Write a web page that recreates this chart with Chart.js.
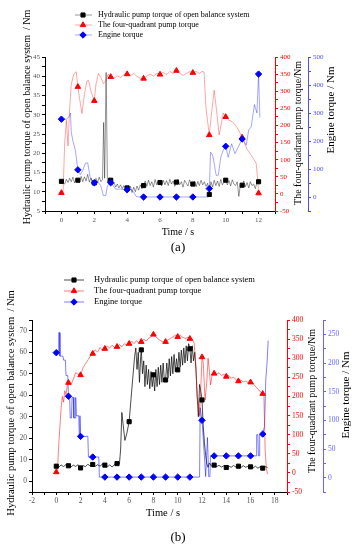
<!DOCTYPE html>
<html>
<head>
<meta charset="utf-8">
<script src="https://cdn.jsdelivr.net/npm/chart.js"></script>
<style>
  body { margin: 0; background: #fff; }
  canvas { display: block; }
</style>
</head>
<body>
<canvas id="chartA" width="357" height="265"></canvas>
<canvas id="chartB" width="357" height="285"></canvas>
<script>
// ---------- chart (a) ----------
const aMarkT = [0, 1, 2, 3, 4, 5, 6, 7, 8, 9, 10, 11, 12];
const aPumpMark = [12.7, 13.0, 12.3, 13.0, 11.0, 11.6, 12.4, 12.5, 12.0, 9.3, 13.0, 11.7, 12.6];
const aQuadMark = [3, 313, 272, 342, 350, 337, 349, 360, 354, 172, 225, 165, 2];
const aEngMark = [278, 97, 51, 51, 26, 0, 0, 0, 0, 30, 181, 207, 439];

const aPumpLine = [
  [0, 12.7], [0.1, 12.2], [0.2, 12.0], [0.3, 13.2], [0.4, 12.4], [0.5, 13.5], [0.6, 12.6], [0.7, 13.8],
  [0.8, 12.3], [0.9, 13.4], [1.0, 13.0], [1.1, 12.4], [1.2, 14.0], [1.3, 12.6], [1.4, 13.9], [1.5, 12.8],
  [1.6, 14.5], [1.7, 12.5], [1.8, 13.6], [1.9, 12.2], [2.0, 12.3], [2.1, 13.5], [2.2, 12.4], [2.3, 13.8],
  [2.4, 12.6], [2.5, 13.2], [2.57, 28], [2.63, 13.5], [2.72, 41], [2.8, 12.5], [2.9, 13.6], [3.0, 13.0],
  [3.1, 11.8], [3.2, 12.4], [3.3, 11.2], [3.4, 12.0], [3.5, 11.0], [3.6, 11.8], [3.7, 10.8], [3.8, 11.6],
  [3.9, 10.5], [4.0, 11.0], [4.1, 10.2], [4.2, 11.4], [4.3, 9.8], [4.4, 11.2], [4.5, 10.0], [4.6, 11.5],
  [4.7, 10.4], [4.8, 11.8], [4.9, 10.8], [5.0, 11.6], [5.1, 12.8], [5.2, 11.4], [5.3, 13.0], [5.4, 11.6],
  [5.5, 12.6], [5.6, 11.2], [5.7, 13.2], [5.8, 11.8], [5.9, 12.8], [6.0, 12.4], [6.1, 11.5], [6.2, 13.0],
  [6.3, 11.8], [6.4, 12.9], [6.5, 11.6], [6.6, 13.2], [6.7, 12.0], [6.8, 12.8], [6.9, 11.4], [7.0, 12.5],
  [7.1, 13.3], [7.2, 11.8], [7.3, 12.6], [7.4, 11.2], [7.5, 13.0], [7.6, 12.2], [7.7, 11.5], [7.8, 13.1],
  [7.9, 11.9], [8.0, 12.0], [8.1, 12.8], [8.2, 11.3], [8.3, 12.7], [8.4, 11.6], [8.5, 13.0], [8.6, 11.8],
  [8.7, 12.6], [8.8, 11.4], [8.9, 12.2], [9.0, 9.3], [9.1, 12.6], [9.2, 11.2], [9.3, 13.0], [9.4, 11.6],
  [9.5, 12.8], [9.6, 11.4], [9.7, 13.2], [9.8, 11.8], [9.9, 12.6], [10.0, 13.0], [10.1, 11.8], [10.2, 12.9],
  [10.3, 11.5], [10.4, 13.1], [10.5, 12.0], [10.6, 11.6], [10.7, 12.6], [10.8, 8.8], [10.9, 12.2], [11.0, 11.7],
  [11.1, 12.8], [11.2, 11.3], [11.3, 12.4], [11.4, 11.0], [11.5, 12.6], [11.6, 11.6], [11.7, 12.0], [11.8, 10.8],
  [11.9, 12.4], [12.0, 12.6], [12.1, 13.2]
];
const aQuadLine = [
  [0, 3], [0.1, 5], [0.2, 150], [0.3, 215], [0.4, 140], [0.5, 250], [0.6, 320], [0.75, 350], [0.9, 357],
  [1.0, 313], [1.1, 280], [1.25, 235], [1.4, 290], [1.55, 330], [1.65, 332], [1.8, 300], [2.0, 272],
  [2.1, 320], [2.25, 352], [2.4, 340], [2.55, 322], [2.7, 330], [2.85, 350], [3.0, 342], [3.2, 338],
  [3.4, 345], [3.6, 340], [3.8, 348], [4.0, 350], [4.2, 345], [4.4, 352], [4.6, 343], [4.8, 338],
  [5.0, 337], [5.2, 345], [5.4, 350], [5.6, 344], [5.8, 352], [6.0, 349], [6.2, 355], [6.4, 348],
  [6.6, 358], [6.8, 352], [7.0, 360], [7.2, 353], [7.4, 346], [7.6, 352], [7.8, 357], [8.0, 354],
  [8.2, 358], [8.4, 352], [8.55, 358], [8.68, 356], [8.8, 250], [9.0, 172], [9.1, 220], [9.3, 303],
  [9.45, 240], [9.6, 172], [9.75, 210], [9.85, 236], [10.0, 225], [10.2, 215], [10.4, 211], [10.6, 200],
  [10.8, 185], [11.0, 165], [11.3, 130], [11.6, 110], [11.85, 90], [11.95, 40], [12.0, 2]
];
const aEngLine = [
  [0, 278], [0.3, 278], [0.45, 285], [0.55, 300], [0.6, 230], [0.7, 200], [0.85, 166], [1.0, 97],
  [1.15, 80], [1.3, 95], [1.45, 120], [1.6, 122], [1.75, 70], [1.9, 55], [2.0, 51], [2.2, 55],
  [2.4, 40], [2.55, 5], [2.7, 5], [2.8, 40], [3.0, 51], [3.15, 40], [3.3, 28], [3.6, 28], [3.9, 26],
  [4.0, 26], [4.2, 28], [4.4, 18], [4.55, 2], [4.7, 0], [5, 0], [6, 0], [7, 0], [8, 0], [8.95, 0],
  [9.0, 30], [9.08, 160], [9.2, 150], [9.3, 120], [9.42, 77], [9.55, 78], [9.7, 142], [9.85, 168],
  [10.0, 181], [10.15, 142], [10.36, 190], [10.56, 155], [10.76, 178], [11.0, 207], [11.1, 200],
  [11.25, 185], [11.4, 240], [11.55, 250], [11.75, 330], [11.9, 300], [12.0, 439], [12.08, 284]
];

// ---------- chart (b) ----------
const bMarkT = [0, 1, 2, 3, 4, 5, 6, 7, 8, 9, 10, 11, 12, 13, 14, 15, 16, 17];
const bPumpMark = [7.0, 7.2, 6.2, 7.8, 7.5, 8.2, 27.7, 61.1, 49.5, 47.1, 51.8, 61.6, 37.8, 7.5, 6.4, 7.0, 6.7, 6.1];
const bQuadMark = [2, 236, 256, 312, 325, 330, 338, 343, 362, 343, 356, 351, 303, 260, 252, 240, 237, 207];
const bEngMark = [218, 142, 72, 36, 1, 1, 1, 1, 1, 1, 1, 1, 100, 38, 38, 38, 38, 76];

const bPumpLine = [
  [0, 7.0], [0.2, 6.5], [0.4, 7.6], [0.6, 6.8], [0.8, 7.8], [1.0, 7.2], [1.2, 6.6], [1.4, 7.5], [1.6, 6.9],
  [1.8, 7.7], [2.0, 6.2], [2.2, 7.3], [2.4, 6.8], [2.6, 7.9], [2.8, 7.1], [3.0, 7.8], [3.2, 6.9], [3.4, 7.7],
  [3.6, 7.0], [3.8, 8.0], [4.0, 7.5], [4.2, 6.7], [4.4, 7.6], [4.6, 6.6], [4.8, 7.8], [5.0, 8.2], [5.2, 8.0],
  [5.3, 15], [5.4, 32], [5.55, 24], [5.65, 19], [5.8, 22], [6.0, 27.7], [6.15, 38], [6.3, 48], [6.45, 58],
  [6.55, 62], [6.65, 52], [6.75, 60], [6.85, 46], [6.95, 58], [7.0, 61.1], [7.1, 50], [7.2, 56], [7.3, 44],
  [7.4, 54], [7.5, 45], [7.6, 52], [7.7, 43], [7.8, 51], [7.9, 44], [8.0, 49.5], [8.1, 42], [8.2, 52],
  [8.3, 44], [8.4, 53], [8.5, 45], [8.6, 54], [8.7, 46], [8.8, 55], [8.9, 47], [9.0, 47.1], [9.1, 55],
  [9.2, 48], [9.3, 57], [9.4, 49], [9.5, 58], [9.6, 50], [9.7, 59], [9.8, 51], [9.9, 57], [10.0, 51.8],
  [10.1, 60], [10.2, 53], [10.3, 61], [10.4, 54], [10.5, 62], [10.6, 55], [10.7, 63], [10.8, 56], [10.9, 64],
  [11.0, 61.6], [11.1, 55], [11.2, 63], [11.3, 56], [11.4, 60], [11.5, 52], [11.6, 40], [11.7, 30],
  [11.8, 45], [11.9, 42], [12.0, 37.8], [12.1, 26], [12.2, 18], [12.3, 12], [12.4, 8], [12.5, 6.5],
  [12.6, 8.5], [12.8, 7], [13.0, 7.5], [13.2, 6.8], [13.4, 7.4], [13.6, 6.6], [13.8, 7.2], [14.0, 6.4],
  [14.2, 7.1], [14.4, 6.5], [14.6, 7.3], [14.8, 6.6], [15.0, 7.0], [15.2, 6.4], [15.4, 7.2], [15.6, 6.5],
  [15.8, 7.0], [16.0, 6.7], [16.2, 6.2], [16.4, 7.0], [16.6, 6.1], [16.8, 6.8], [17.0, 6.1], [17.2, 6.8],
  [17.4, 6.4]
];
const bQuadLine = [
  [0, 2], [0.1, 10], [0.22, 83], [0.4, 171], [0.5, 200], [0.6, 185], [0.7, 215], [0.8, 205], [0.9, 228],
  [1.0, 236], [1.2, 230], [1.4, 245], [1.6, 262], [1.8, 258], [2.0, 256], [2.2, 275], [2.4, 285],
  [2.6, 295], [2.8, 305], [3.0, 312], [3.2, 322], [3.4, 316], [3.6, 328], [3.8, 320], [4.0, 325],
  [4.2, 332], [4.4, 326], [4.6, 334], [4.8, 328], [5.0, 330], [5.2, 336], [5.4, 330], [5.6, 338],
  [5.8, 334], [6.0, 338], [6.2, 345], [6.4, 338], [6.6, 346], [6.8, 340], [7.0, 343], [7.2, 350],
  [7.4, 345], [7.6, 352], [7.8, 356], [8.0, 362], [8.2, 356], [8.4, 350], [8.6, 346], [8.8, 342],
  [9.0, 343], [9.2, 348], [9.4, 352], [9.6, 356], [9.8, 360], [10.0, 356], [10.2, 360], [10.4, 355],
  [10.6, 352], [10.8, 354], [11.0, 351], [11.2, 350], [11.35, 340], [11.5, 280], [11.6, 200], [11.7, 180],
  [11.8, 150], [11.9, 220], [12.0, 303], [12.1, 290], [12.25, 190], [12.4, 240], [12.5, 300], [12.6, 270],
  [12.7, 230], [12.8, 250], [12.9, 262], [13.0, 260], [13.2, 258], [13.4, 262], [13.6, 255], [13.8, 258],
  [14.0, 252], [14.2, 255], [14.4, 248], [14.6, 250], [14.8, 244], [15.0, 240], [15.2, 243], [15.4, 238],
  [15.6, 240], [15.8, 236], [16.0, 237], [16.2, 234], [16.4, 226], [16.6, 220], [16.8, 212], [17.0, 207],
  [17.1, 200], [17.2, 60], [17.3, 10], [17.4, -3]
];
const bEngLine = [
  [0, 218], [0.15, 218], [0.2, 253], [0.28, 253], [0.3, 212], [0.55, 212], [0.6, 205], [0.75, 205],
  [0.8, 178], [0.95, 178], [1.0, 142], [1.1, 141], [1.15, 104], [1.25, 104], [1.3, 140], [1.4, 140],
  [1.45, 104], [1.55, 104], [1.6, 140], [1.65, 108], [1.85, 108], [1.9, 70], [1.95, 108], [2.0, 72],
  [2.6, 72], [2.65, 36], [3.5, 36], [3.55, 1], [11.8, 1], [11.85, 122], [12.0, 100], [12.1, 70],
  [12.3, 2], [12.45, 70], [12.55, 2], [12.65, 2], [12.7, 38], [16.45, 38], [16.5, 75], [16.6, 75],
  [16.65, 38], [16.7, 38], [16.75, 75], [17.0, 76], [17.15, 90], [17.25, 170], [17.35, 198], [17.45, 239]
];

const serif = "'Liberation Serif', 'DejaVu Serif', serif";

const decor = {
  id: "decor",
  afterDraw(chart, args, o) {
    const ctx = chart.ctx;
    ctx.save();
    const L = o.legend;
    ctx.font = L.font;
    ctx.textBaseline = "middle";
    ctx.textAlign = "left";
    const items = chart.data.datasets.filter((d) => d.legendText);
    items.forEach((d, i) => {
      const y = L.y + i * L.dy;
      ctx.strokeStyle = d.legendLine;
      ctx.lineWidth = 1;
      ctx.beginPath();
      ctx.moveTo(L.x0, y);
      ctx.lineTo(L.x1, y);
      ctx.stroke();
      ctx.fillStyle = d.backgroundColor;
      ctx.strokeStyle = d.borderColor;
      Chart.helpers.drawPoint(ctx, { pointStyle: d.pointStyle, radius: d.pointRadius, rotation: 0, borderWidth: 1 }, L.xm, y);
      ctx.fillStyle = "#000";
      ctx.fillText(d.legendText, L.xt, y);
    });
    ctx.textAlign = "center";
    o.texts.forEach((t) => {
      ctx.save();
      ctx.font = t.font;
      ctx.fillStyle = "#000";
      ctx.translate(t.x, t.y);
      if (t.rot) ctx.rotate(-Math.PI / 2);
      ctx.fillText(t.text, 0, 0);
      ctx.restore();
    });
    ctx.restore();
  },
};

function pts(xs, ys) {
  return xs.map((x, i) => ({ x: x, y: ys[i] }));
}
function linePts(pairs) {
  return pairs.map((p) => ({ x: p[0], y: p[1] }));
}

function yAxis(pos, color, labelColor, min, max, step, labelStep, labelMin, width, weight, fs) {
  return {
    type: "linear",
    position: pos,
    min: min,
    max: max,
    weight: weight,
    afterFit: (s) => { s.width = width; },
    border: { display: true, color: color, width: 1 },
    grid: { drawOnChartArea: false, drawTicks: true, tickLength: 3, color: color },
    ticks: {
      stepSize: step,
      autoSkip: false,
      padding: 2,
      color: labelColor,
      font: { family: serif, size: fs },
      callback: (v) => (v >= labelMin && Math.abs(v / labelStep - Math.round(v / labelStep)) < 1e-6 ? String(v) : ""),
    },
  };
}

function makeChart(id, c) {
  const blueMarks = { data: pts(c.markT, c.engMark), yAxisID: "y3", showLine: false, pointStyle: "rectRot", pointRadius: c.mr + 0.3,
    backgroundColor: "#0000ff", borderColor: "#0000ff", order: 1, legendText: "Engine torque", legendLine: c.blueLine };
  const redMarks = { data: pts(c.markT, c.quadMark), yAxisID: "y2", showLine: false, pointStyle: "triangle", pointRadius: c.mr + 0.3,
    backgroundColor: "#ff0000", borderColor: "#ff0000", order: 2, legendText: "The four-quadrant pump torque", legendLine: c.redLine };
  const blackMarks = { data: pts(c.markT, c.pumpMark), yAxisID: "y", showLine: false, pointStyle: "rect", pointRadius: c.mr,
    backgroundColor: "#000000", borderColor: "#000000", order: 3, legendText: "Hydraulic pump torque of open balance system", legendLine: c.grayLine };
  const lineOpts = { showLine: true, fill: false, borderWidth: 1, pointRadius: 0, pointHoverRadius: 0 };
  const datasets = [
    blackMarks, redMarks, blueMarks,
    Object.assign({ data: linePts(c.pumpLine), yAxisID: "y", borderColor: c.grayLine, order: 6 }, lineOpts),
    Object.assign({ data: linePts(c.engLine), yAxisID: "y3", borderColor: c.blueLine, order: 5 }, lineOpts),
    Object.assign({ data: linePts(c.quadLine), yAxisID: "y2", borderColor: c.redLine, order: 4 }, lineOpts),
  ];

  return new Chart(document.getElementById(id), {
    type: "scatter",
    data: { datasets: datasets },
    plugins: [decor],
    options: {
      responsive: false,
      animation: false,
      events: [],
      layout: { padding: c.padding },
      elements: { line: { tension: 0 }, point: { borderWidth: 1 } },
      plugins: {
        legend: { display: false },
        tooltip: { enabled: false },
        decor: { legend: c.legend, texts: c.texts },
      },
      scales: {
        x: {
          type: "linear",
          position: "bottom",
          min: c.xMin,
          max: c.xMax,
          afterFit: (s) => { s.height = 28; },
          border: { display: true, color: "#000", width: 1 },
          grid: { drawOnChartArea: false, drawTicks: true, tickLength: 3, color: "#000" },
          ticks: {
            stepSize: 1,
            autoSkip: false,
            maxRotation: 0,
            padding: 2,
            color: "#555",
            font: { family: serif, size: c.fs },
            callback: (v) => (v >= c.xLabelMin && v <= c.xLabelMax && v % 2 === 0 ? String(v) : ""),
          },
        },
        y: yAxis("left", "#000", "#555", c.yL[0], c.yL[1], c.yL[2], c.yL[3], c.yL[4], c.wL, 0, c.fs),
        y2: yAxis("right", "#ff0000", "#ff0000", -50, 400, 25, 50, -50, c.wR, 0, c.fs),
        y3: yAxis("right", c.blueAxis, c.blueAxis, c.yB[0], c.yB[1], c.yB[2], c.yB[3], c.yB[4], c.wB, 1, c.fs),
      },
    },
  });
}

makeChart("chartA", {
  markT: aMarkT, pumpMark: aPumpMark, quadMark: aQuadMark, engMark: aEngMark,
  pumpLine: aPumpLine, quadLine: aQuadLine, engLine: aEngLine,
  grayLine: "rgba(0,0,0,0.42)", redLine: "rgba(255,0,0,0.35)", blueLine: "rgba(0,0,255,0.35)",
  blueAxis: "#4d4dff", mr: 2.9, fs: 7,
  padding: { top: 57, bottom: 26, left: 0, right: 0 },
  xMin: -1, xMax: 13, xLabelMin: 0, xLabelMax: 12,
  yL: [5, 45, 2.5, 5, 5], yB: [-50, 500, 50, 100, 0],
  wL: 45, wR: 33, wB: 49,
  legend: { x0: 75, x1: 92, xm: 83, xt: 98, y: 15, dy: 10, font: "8px " + serif },
  texts: [
    { text: "Hydraulic pump torque of open balance system  / Nm", x: 27, y: 117, rot: true, font: "10px " + serif },
    { text: "The four-quadrant pump torque/Nm", x: 298, y: 133, rot: true, font: "10px " + serif },
    { text: "Engine torque / Nm", x: 331, y: 110, rot: true, font: "11px " + serif },
    { text: "Time / s", x: 178, y: 232, rot: false, font: "10px " + serif },
    { text: "(a)", x: 178, y: 248, rot: false, font: "13px " + serif },
  ],
});

makeChart("chartB", {
  markT: bMarkT, pumpMark: bPumpMark, quadMark: bQuadMark, engMark: bEngMark,
  pumpLine: bPumpLine, quadLine: bQuadLine, engLine: bEngLine,
  grayLine: "rgba(0,0,0,0.7)", redLine: "rgba(255,0,0,0.5)", blueLine: "rgba(0,0,255,0.5)",
  blueAxis: "#6666ff", mr: 2.9, fs: 7.5,
  padding: { top: 55, bottom: 30, left: 0, right: 0 },
  xMin: -2, xMax: 19, xLabelMin: -2, xLabelMax: 18,
  yL: [-5, 75, 5, 10, 0], yB: [-25, 275, 25, 50, 0],
  wL: 32, wR: 36, wB: 34,
  legend: { x0: 64, x1: 84, xm: 74, xt: 94, y: 15, dy: 11, font: "8.5px " + serif },
  texts: [
    { text: "Hydraulic pump torque of open balance system  / Nm", x: 11, y: 138, rot: true, font: "10.5px " + serif },
    { text: "The four-quadrant pump torque/Nm", x: 312, y: 136, rot: true, font: "10px " + serif },
    { text: "Engine torque / Nm", x: 346, y: 130, rot: true, font: "11px " + serif },
    { text: "Time / s", x: 163, y: 248, rot: false, font: "10.5px " + serif },
    { text: "(b)", x: 178, y: 273, rot: false, font: "13px " + serif },
  ],
});
</script>
</body>
</html>
